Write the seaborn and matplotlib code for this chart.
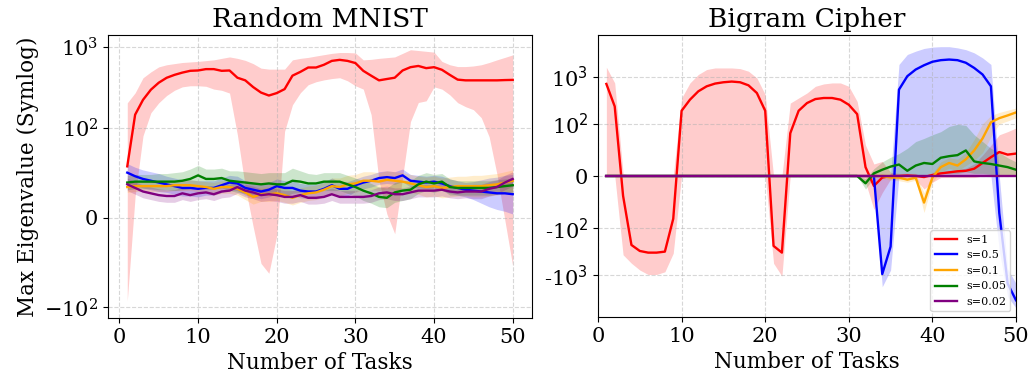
import numpy as np
import pandas as pd
import matplotlib
matplotlib.use("Agg")
import matplotlib.pyplot as plt
from matplotlib.ticker import NullLocator
import seaborn as sns

plt.rcParams['font.family'] = ['DejaVu Serif']

tasks = list(range(1, 51))
labels = ['s=1', 's=0.5', 's=0.1', 's=0.05', 's=0.02']
colors = ['red', 'blue', 'orange', 'green', 'purple']

# ---- Random MNIST ----
mnist_s1 = [57, 145, 221, 295, 360, 414, 450, 480, 505, 510, 530, 530, 505, 510, 415, 385, 318, 272, 250, 268,
            300, 440, 490, 555, 555, 600, 670, 690, 670, 630, 505, 440, 385, 400, 415, 510, 560, 580, 545, 560,
            520, 450, 393, 385, 385, 385, 385, 385, 388, 390]
mnist_s1_hi = [203, 270, 414, 490, 565, 600, 620, 640, 650, 660, 675, 690, 720, 750, 720, 680, 620, 545, 530, 530,
               530, 690, 720, 740, 770, 800, 830, 850, 850, 840, 690, 700, 720, 735, 750, 830, 920, 900, 880, 860,
               660, 600, 570, 570, 580, 600, 640, 690, 740, 795]
mnist_s1_lo = [-93, 24, 91, 153, 203, 250, 290, 320, 330, 330, 325, 300, 290, 268, 92, 34, -10, -51, -62, -20,
               96, 192, 270, 340, 370, 390, 405, 415, 380, 330, 300, 145, 41, 4, -18, 45, 119, 205, 215, 320,
               300, 255, 204, 182, 167, 133, 90, 48, -3, -54]
mnist_s05 = [50, 46, 43, 41, 39, 37, 35, 33, 33, 32, 33, 33, 36, 39, 38, 33, 31, 29, 31, 35,
             33, 33, 30, 29, 29, 32, 36, 32, 32, 36, 39, 41, 44, 45, 44, 47, 41, 40, 39, 40,
             38, 35, 33, 31, 30, 29, 28, 27, 27, 26]
mnist_s05_w = [10, 10, 10, 10, 10, 9, 9, 9, 9, 9, 8, 8, 8, 8, 8, 8, 8, 8, 8, 8,
               8, 8, 8, 8, 8, 8, 8, 8, 8, 7, 7, 7, 7, 7, 7, 7, 7, 7, 7, 7,
               8, 8, 8, 8, 10, 13, 16, 18, 20, 22]
mnist_s01 = [34, 35, 35, 35, 35, 35, 36, 36, 36, 35, 34, 32, 34, 34, 32, 28, 23, 26, 26, 27,
             25, 22, 25, 27, 28, 31, 35, 34, 37, 38, 41, 41, 40, 42, 41, 40, 38, 36, 34, 35,
             33, 34, 35, 35, 35, 35, 36, 37, 39, 41]
mnist_s01_w = [6, 6, 6, 6, 6, 6, 6, 6, 6, 6, 6, 7, 7, 7, 7, 8, 8, 8, 8, 8,
               8, 8, 8, 8, 8, 8, 9, 10, 10, 10, 10, 10, 10, 10, 10, 10, 10, 10, 11, 11,
               11, 11, 11, 11, 12, 12, 12, 12, 12, 12]
mnist_s005 = [39, 40, 40, 40, 40, 40, 40, 41, 43, 47, 43, 43, 44, 41, 40, 39, 38, 37, 38, 37,
              37, 41, 40, 38, 38, 40, 40, 40, 37, 34, 30, 27, 23, 22, 28, 30, 31, 37, 40, 38,
              40, 34, 33, 33, 33, 33, 33, 34, 35, 36]
mnist_s005_w = [8, 8, 8, 8, 9, 9, 10, 10, 11, 11, 11, 11, 11, 11, 12, 12, 12, 12, 12, 13,
                13, 14, 12, 11, 10, 10, 10, 10, 10, 10, 11, 11, 11, 11, 11, 11, 10, 10, 10, 10,
                9, 9, 8, 8, 8, 8, 8, 8, 8, 8]
mnist_s002 = [37, 33, 29, 27, 25, 24, 24, 27, 25, 27, 28, 26, 29, 30, 34, 30, 28, 25, 26, 25,
              23, 23, 25, 22, 22, 23, 26, 23, 23, 23, 23, 24, 27, 28, 26, 26, 28, 30, 30, 30,
              31, 29, 28, 29, 29, 29, 32, 34, 39, 43]
mnist_s002_w = [7, 7, 7, 7, 7, 7, 7, 7, 7, 7, 7, 7, 7, 7, 7, 7, 7, 7, 7, 7,
                7, 7, 7, 7, 7, 7, 7, 7, 7, 7, 7, 7, 7, 7, 7, 7, 7, 7, 7, 7,
                7, 7, 7, 7, 8, 8, 8, 8, 8, 8]

# ---- Bigram Cipher ----
zeros30 = [0] * 30
bigram_s1 = [708, 235, -38, -228, -306, -332, -332, -316, -82, 190, 327, 493, 630, 720, 768, 795, 768, 661, 454, 190,
             -239, -332, 82, 190, 277, 337, 355, 355, 327, 255, 161, 17, -19, -3, 0, 0, 1, 0, -2, 2,
             5, 7, 9, 10, 14, 25, 36, 46, 41, 43]
bigram_s1_hi = [1610, 743, 5, 0, 0, 0, 0, 0, 0, 355, 743, 1125, 1435, 1550, 1550, 1550, 1500, 1320, 950, 420,
                0, 0, 277, 355, 454, 630, 708, 743, 743, 630, 300, 59, 23, 28, 7, 5, 5, 5, -3, 4,
                8, 10, 12, 15, 23, 40, 59, 79, 85, 92]
bigram_s1_lo = [2, 1, -369, -560, -780, -970, -970, -850, -343, 1, 1, 1, 1, 1, 1, 1, 1, 1, 1, 1,
                -560, -1050, 1, 1, 1, 1, 1, 1, 1, 1, 1, -12, -64, -32, -6, -6, -6, -6, -25, -12,
                -3, -3, -3, -3, -3, 0, 0, 0, 0, 0]
bigram_s05 = zeros30 + [0, 0, 0, -950, -247, 535, 1035, 1435, 1770, 2100,
                        2270, 2340, 2270, 2000, 1550, 1125, 630, -71, -1510, -3430]
bigram_s05_hi = zeros30 + [0, 0, 5, 0, 0, 1840, 3000, 3530, 4030, 4300,
                           4400, 4400, 4150, 3800, 3250, 2540, 1840, 0, -740, -1500]
bigram_s05_lo = zeros30 + [0, 0, -5, -1770, -780, 0, 0, 0, 0, 0,
                           0, 0, 0, 0, 0, 0, 0, -300, -2870, -5000]
bigram_s01 = zeros30 + [0, 0, 0, 0, -3, -3, -7, -3, -51, -3,
                        17, 25, 20, 32, 49, 72, 108, 132, 151, 175]
bigram_s01_hi = zeros30 + [0, 0, 0, 5, 3, 2, -2, 3, -32, 5,
                           27, 35, 32, 45, 70, 100, 150, 175, 195, 217]
bigram_s01_lo = zeros30 + [0, 0, 0, -5, -8, -9, -12, -8, -70, -12,
                           8, 15, 10, 20, 30, 45, 75, 100, 115, 135]
bigram_s005 = zeros30 + [0, -14, 5, 12, 18, 22, 10, 20, 25, 23,
                         35, 38, 40, 49, 28, 25, 23, 20, 17, 12]
bigram_s005_hi = zeros30 + [0, -5, 14, 27, 36, 43, 53, 66, 72, 79,
                            85, 95, 99, 97, 79, 66, 53, 45, 35, 27]
bigram_s005_lo = zeros30 + [0, -25, -3, 0, 2, 3, 0, 2, 3, 3,
                            5, 5, 5, 8, 5, 5, 3, 3, 2, 2]
bigram_s002 = [0] * 50


def long_frame(series):
    rows = []
    for lab, vals in zip(labels, series):
        for t, v in zip(tasks, vals):
            rows.append((t, v, lab))
    return pd.DataFrame(rows, columns=['task', 'value', 'sparsity'])


mnist_mean = [mnist_s1, mnist_s05, mnist_s01, mnist_s005, mnist_s002]
mnist_bands = [
    (mnist_s1_lo, mnist_s1_hi),
    (np.subtract(mnist_s05, mnist_s05_w), np.add(mnist_s05, mnist_s05_w)),
    (np.subtract(mnist_s01, mnist_s01_w), np.add(mnist_s01, mnist_s01_w)),
    (np.subtract(mnist_s005, mnist_s005_w), np.add(mnist_s005, mnist_s005_w)),
    (np.subtract(mnist_s002, mnist_s002_w), np.add(mnist_s002, mnist_s002_w)),
]
bigram_mean = [bigram_s1, bigram_s05, bigram_s01, bigram_s005, bigram_s002]
bigram_bands = [
    (bigram_s1_lo, bigram_s1_hi),
    (bigram_s05_lo, bigram_s05_hi),
    (bigram_s01_lo, bigram_s01_hi),
    (bigram_s005_lo, bigram_s005_hi),
    (bigram_s002, bigram_s002),
]

fig = plt.figure(figsize=(10.3, 3.81), dpi=100)
ax1 = fig.add_axes([108 / 1030, 1 - 318 / 381, 424 / 1030, 283 / 381])
ax2 = fig.add_axes([598 / 1030, 1 - 317 / 381, 418 / 1030, 282 / 381])
palette = dict(zip(labels, colors))

for ax, means, bands, title in [(ax1, mnist_mean, mnist_bands, 'Random MNIST'),
                                (ax2, bigram_mean, bigram_bands, 'Bigram Cipher')]:
    ax.set_yscale('symlog', linthresh=100)
    for (lo, hi), c in zip(bands, colors):
        ax.fill_between(tasks, lo, hi, color=c, alpha=0.2, linewidth=0)
    sns.lineplot(data=long_frame(means), x='task', y='value', hue='sparsity',
                 hue_order=labels, palette=palette, linewidth=1.7, errorbar=None, ax=ax)
    ax.set_title(title, fontsize=19)
    ax.set_xlabel('Number of Tasks', fontsize=15.5)
    ax.grid(True, linestyle='--', alpha=0.5)
    ax.tick_params(labelsize=15)
    ax.yaxis.set_minor_locator(NullLocator())
    ax.set_xticks([0, 10, 20, 30, 40, 50])

ax1.set_ylabel('Max Eigenvalue (Symlog)', fontsize=15.5)
ax1.set_yticks([-100, 0, 100, 1000])
ax1.set_ylim(-135, 1400)
ax1.get_legend().remove()

ax2.set_ylabel('')
ax2.set_xlim(0, 50)
ax2.set_ylim(-7800, 7800)
ax2.set_yticks([-1000, -100, 0, 100, 1000])
ax2.set_yticklabels(['-10$^3$', '-10$^2$', '0', '10$^2$', '10$^3$'])
ax2.legend(loc='lower right', fontsize=8)

fig.savefig('out.png', dpi=100)
